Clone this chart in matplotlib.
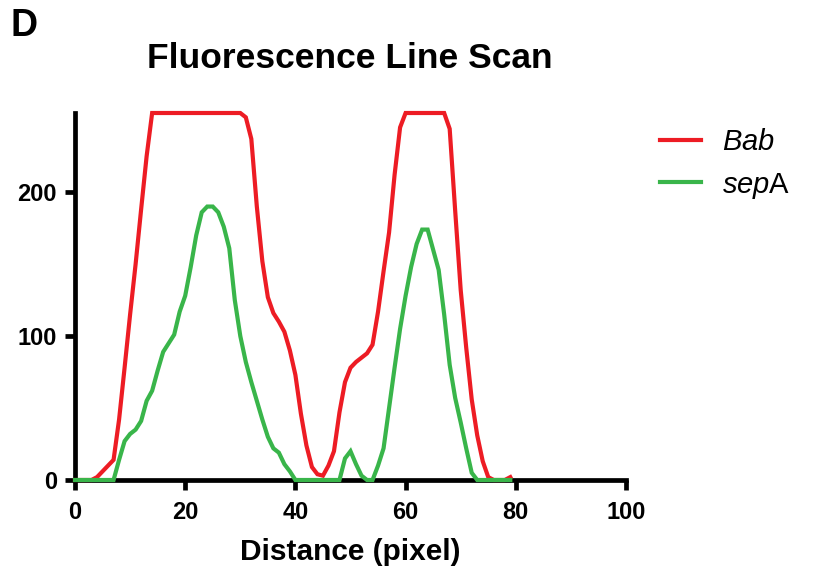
import numpy as np
import matplotlib
matplotlib.use("Agg")
import matplotlib.pyplot as plt

plt.rcParams['font.family'] = ['Liberation Sans', 'DejaVu Sans']
plt.rcParams['mathtext.fontset'] = 'custom'
plt.rcParams['mathtext.rm'] = 'Liberation Sans'
plt.rcParams['mathtext.it'] = 'Liberation Sans:italic'

# Line-scan intensity profiles (distance in pixels, 8-bit intensity)
distance = list(range(0, 80))
bab = [0, 0, 0, 0, 2, 6, 10, 14, 42, 78,
       115, 150, 188, 225, 255, 255, 255, 255, 255, 255,
       255, 255, 255, 255, 255, 255, 255, 255, 255, 255,
       255, 252, 237, 190, 152, 127, 116, 110, 103, 90,
       73, 46, 24, 9, 4, 3, 10, 20, 47, 68,
       78, 82, 85, 88, 94, 117, 145, 172, 212, 245,
       255, 255, 255, 255, 255, 255, 255, 255, 244, 187,
       132, 92, 56, 31, 13, 2, 0, 0, 0, 2]
sepa = [0, 0, 0, 0, 0, 0, 0, 0, 14, 27,
        32, 35, 41, 55, 62, 76, 89, 95, 101, 117,
        128, 148, 170, 186, 190, 190, 186, 176, 161, 125,
        100, 82, 68, 55, 42, 30, 22, 19, 11, 6,
        0, 0, 0, 0, 0, 0, 0, 0, 0, 15,
        20, 11, 3, 0, 0, 10, 22, 50, 78, 105,
        128, 148, 164, 174, 174, 160, 146, 115, 80, 57,
        40, 22, 5, 0, 0, 0, 0, 0, 0, 0]

series_labels = [r'$\it{Bab}$', r'$\it{sep}\mathrm{A}$']
series_colors = ['#ED1C24', '#39B54A']

x_ticks = [0, 20, 40, 60, 80, 100]
y_ticks = [0, 100, 200]

fig = plt.figure(figsize=(8.13, 5.73), dpi=100)
ax = fig.add_axes([75 / 813, 1 - 480 / 573, 551 / 813, 367 / 573])

for vals, lab, col in zip([bab, sepa], series_labels, series_colors):
    ax.plot(distance, vals, color=col, lw=3.0, label=lab,
            clip_on=False, zorder=3, solid_joinstyle='miter')

ax.set_xlim(0, 100)
ax.set_ylim(0, 255)
ax.set_xticks(x_ticks)
ax.set_yticks(y_ticks)

for s in ['top', 'right']:
    ax.spines[s].set_visible(False)
for s in ['left', 'bottom']:
    ax.spines[s].set_linewidth(3.4)
    ax.spines[s].set_color('black')

ax.tick_params(axis='both', direction='out', length=7, width=3.4,
               labelsize=17, colors='black')
ax.tick_params(axis='x', pad=8)
ax.tick_params(axis='y', pad=6)
for lbl in ax.get_xticklabels() + ax.get_yticklabels():
    lbl.set_fontweight('bold')

ax.set_xlabel('Distance (pixel)', fontsize=21.5, fontweight='bold', labelpad=10)

fig.text(350 / 813, 1 - 58 / 573, 'Fluorescence Line Scan', fontsize=25.5,
         fontweight='bold', ha='center', va='center')
fig.text(10 / 813, 1 - 26 / 573, 'D', fontsize=27, fontweight='bold',
         ha='left', va='center')

leg = ax.legend(loc='upper left', bbox_to_anchor=(660 / 813, 1 - 128 / 573),
                bbox_transform=fig.transFigure, frameon=False, fontsize=21,
                handlelength=1.4, handletextpad=0.72, labelspacing=0.5,
                borderpad=0, borderaxespad=0)
for line in leg.get_lines():
    line.set_linewidth(3.0)

fig.savefig('out.png', dpi=100)
